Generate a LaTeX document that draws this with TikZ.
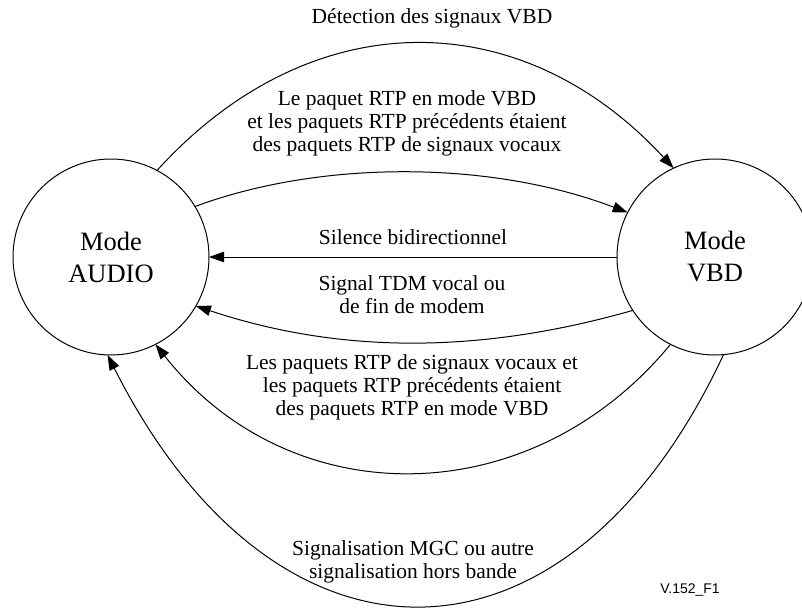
\documentclass[tikz,border=0pt]{standalone}
\usepackage{fontspec}
\setmainfont{Liberation Serif}
\newfontfamily\figsans{Liberation Sans}
\usetikzlibrary{arrows.meta}
\begin{document}
\begin{tikzpicture}[x=1pt,y=-1pt,
  state/.style={circle,draw,line width=1pt,minimum size=196pt,inner sep=0pt,outer sep=0pt,align=center,font=\fontsize{26.5}{32}\selectfont},
  lbl/.style={align=center,font=\fontsize{21.5}{23}\selectfont,inner sep=0pt},
  conn/.style={line width=1pt,-{Triangle[length=15pt,width=10.5pt]}}]
\useasboundingbox (0,0) rectangle (802,608);
\clip (0,0) rectangle (802,608);
\node[state] (A) at (111,257) {Mode\\AUDIO};
\node[state] (B) at (715,257) {Mode\\VBD};
% connectors
\draw[conn] (A.62) .. controls (310,2) and (520,2) .. (B.115);
\draw[conn] (A.31) .. controls (320,160) and (490,160) .. (B.153);
\draw[conn] (B.180) -- (A.0);
\draw[conn] (B.213) .. controls (480,354) and (340,354) .. (A.-30);
\draw[conn] (B.243) .. controls (530,515) and (290,515) .. (A.-63);
\draw[conn] (B.275) .. controls (567,689) and (276,689) .. (A.268);
% labels
\node[lbl] (l1) at (432,18) {Détection des signaux VBD};
\node[lbl] (l2) at (407,123) {Le paquet RTP en mode VBD\\et les paquets RTP précédents étaient\\des paquets RTP de signaux vocaux};
\node[lbl] (l3) at (413,237) {Silence bidirectionnel};
\node[lbl] (l4) at (412,295) {Signal TDM vocal ou\\de fin de modem};
\node[lbl] (l5) at (412,387) {Les paquets RTP de signaux vocaux et\\les paquets RTP précédents étaient\\des paquets RTP en mode VBD};
\node[lbl] (l6) at (413,562) {Signalisation MGC ou autre\\signalisation hors bande};
\node[font=\figsans\fontsize{14}{16}\selectfont,inner sep=0pt] (fig) at (690,590) {V.152\_F1};
\end{tikzpicture}
\end{document}
